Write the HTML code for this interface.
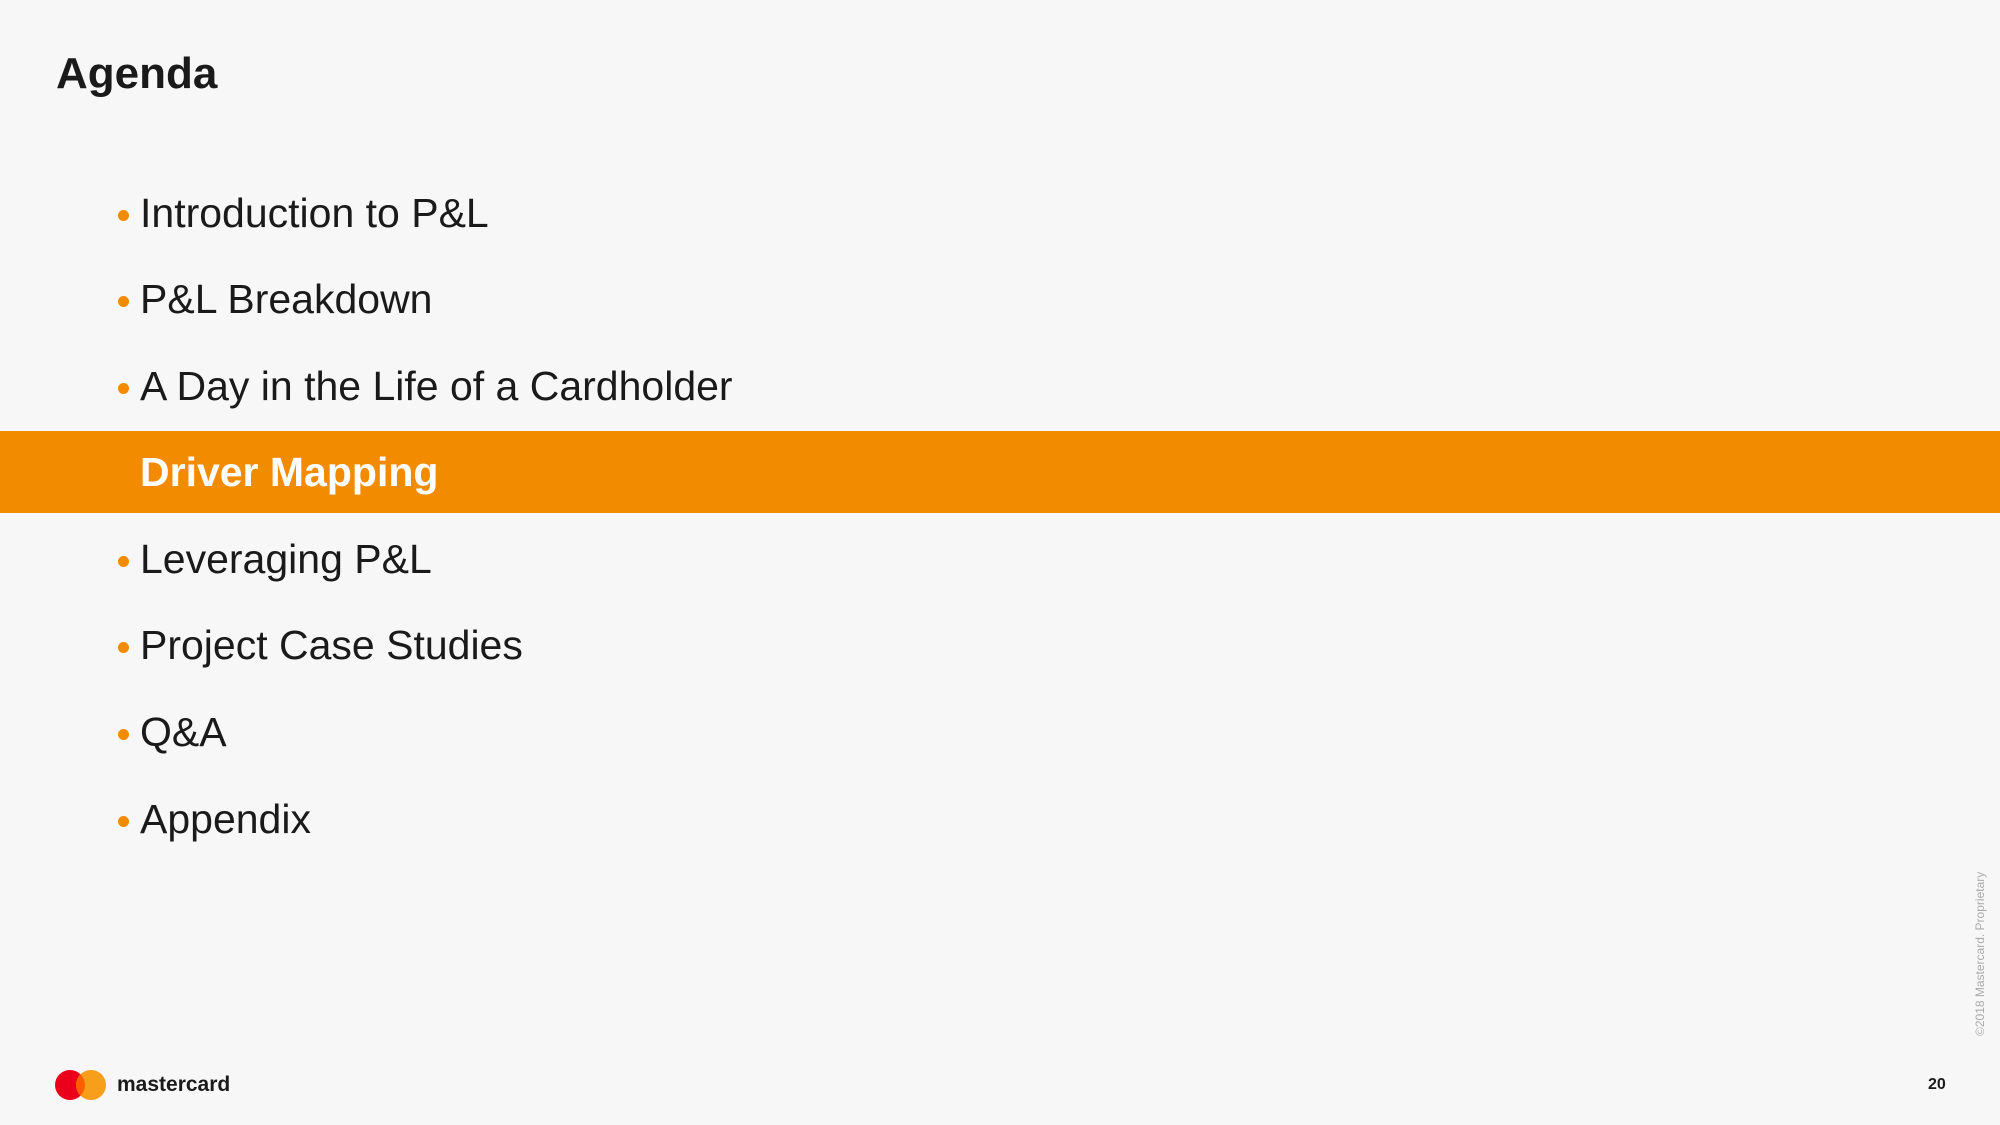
<!DOCTYPE html>
<html><head><meta charset="utf-8"><style>
body{margin:0;width:2000px;height:1125px;background:#f7f7f7;position:relative;overflow:hidden;font-family:"Liberation Sans",sans-serif;color:#1a1a1a}
.t{position:absolute;left:56px;top:49px;font-size:44px;font-weight:bold;margin:0}
.item{position:absolute;left:140px;font-size:41px;line-height:50px;white-space:nowrap}
.item::before{content:"";position:absolute;left:-22px;top:22px;width:11px;height:11px;border-radius:50%;background:#f38b00}
.band{position:absolute;left:0;top:431px;width:2000px;height:82px;background:#f38b00}
.act{color:#fff;font-weight:bold;font-size:41px}
.act::before{display:none}
</style></head><body>
<h1 class="t">Agenda</h1>
<div class="band"></div>
<div class="item" style="top:188px">Introduction to P&amp;L</div>
<div class="item" style="top:274px">P&amp;L Breakdown</div>
<div class="item" style="top:361px">A Day in the Life of a Cardholder</div>
<div class="item act" style="top:447px">Driver Mapping</div>
<div class="item" style="top:534px">Leveraging P&amp;L</div>
<div class="item" style="top:620px">Project Case Studies</div>
<div class="item" style="top:707px">Q&amp;A</div>
<div class="item" style="top:794px">Appendix</div>
<svg style="position:absolute;left:54px;top:1068px" width="56" height="34">
<circle cx="16" cy="17" r="15" fill="#eb001b"/><circle cx="37" cy="17" r="15" fill="#f79e1b"/>
<path d="M26.5 6.3a15 15 0 0 1 0 21.4a15 15 0 0 1 0-21.4z" fill="#ff5f00"/></svg>
<div style="position:absolute;left:117px;top:1073px;font-size:21px;font-weight:bold">mastercard</div>
<div style="position:absolute;left:1928px;top:1076px;font-size:16px;font-weight:bold">20</div>
<div style="position:absolute;left:1973px;top:1036px;transform:rotate(-90deg);transform-origin:0 0;font-size:12px;color:#aaa;white-space:nowrap">©2018 Mastercard. Proprietary</div>
</body></html>
